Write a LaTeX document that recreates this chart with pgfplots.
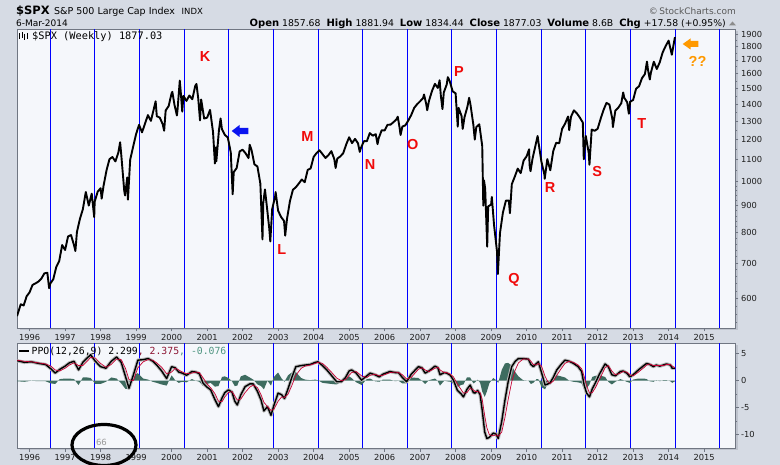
\documentclass[border=0pt]{standalone}
\usepackage{fontspec}
\setmainfont{DejaVu Sans}
\newfontfamily\monof{DejaVu Sans Mono}
\newfontfamily\arialf{Liberation Sans}
\usepackage{pgfplots}
\pgfplotsset{compat=1.18}
\usepackage{pgfplotstable}
\definecolor{bgc}{RGB}{214,219,228}
\definecolor{plotbg}{RGB}{245,247,251}
\definecolor{framec}{RGB}{112,118,130}
\definecolor{shadowc}{RGB}{190,195,205}
\definecolor{labc}{RGB}{30,30,30}
\definecolor{cyc}{RGB}{0,0,255}
\definecolor{histc}{RGB}{62,108,96}
\definecolor{sigc}{RGB}{200,0,50}
\definecolor{sigtxt}{RGB}{140,20,50}
\definecolor{histtxt}{RGB}{80,150,130}
\definecolor{annred}{RGB}{240,10,10}
\definecolor{annorange}{RGB}{255,153,0}
\definecolor{arrowblue}{RGB}{10,20,240}

\pgfplotstableread{
t v
1995.645 555
1995.75 584.4
1995.833 581.5
1995.917 605.4
1996.0 615.9
1996.083 636.0
1996.167 640.4
1996.25 645.5
1996.333 654.2
1996.417 669.1
1996.5 670.6
1996.55 627
1996.583 639.9
1996.667 652.0
1996.75 687.3
1996.833 705.3
1996.917 757.0
1997.0 740.7
1997.083 786.2
1997.167 790.8
1997.25 757.1
1997.29 737.6
1997.333 801.3
1997.417 848.3
1997.5 885.1
1997.583 954.3
1997.667 899.5
1997.75 947.3
1997.82 855
1997.833 914.6
1997.917 955.4
1998.0 970.4
1998.03 927
1998.083 980.3
1998.167 1049.3
1998.25 1101.8
1998.333 1111.8
1998.417 1090.8
1998.5 1133.8
1998.55 1186
1998.583 1120.7
1998.667 957.3
1998.69 940
1998.75 1017.0
1998.77 923
1998.833 1098.7
1998.917 1163.6
1999.0 1229.2
1999.083 1279.6
1999.167 1238.3
1999.25 1286.4
1999.333 1335.2
1999.417 1301.8
1999.5 1372.7
1999.55 1418
1999.583 1328.7
1999.667 1320.4
1999.75 1282.7
1999.79 1247
1999.833 1362.9
1999.917 1388.9
2000.0 1469.3
2000.02 1478
2000.083 1394.5
2000.15 1333
2000.167 1366.4
2000.23 1552
2000.25 1498.6
2000.3 1356
2000.333 1452.4
2000.417 1420.6
2000.5 1454.6
2000.583 1430.8
2000.667 1517.7
2000.7 1530
2000.75 1436.5
2000.8 1305
2000.833 1429.4
2000.917 1315.2
2001.0 1320.3
2001.083 1366.0
2001.167 1239.9
2001.22 1081
2001.25 1160.3
2001.26 1091
2001.333 1249.5
2001.38 1316
2001.417 1255.8
2001.5 1224.4
2001.583 1211.2
2001.667 1133.6
2001.72 945
2001.75 1040.9
2001.833 1059.8
2001.917 1139.5
2002.0 1148.1
2002.083 1130.2
2002.167 1106.7
2002.2 1173
2002.25 1147.4
2002.333 1076.9
2002.417 1067.1
2002.5 989.8
2002.56 776
2002.583 911.6
2002.63 965
2002.667 916.1
2002.75 815.3
2002.78 769
2002.833 885.8
2002.917 936.3
2002.93 954
2003.0 879.8
2003.083 855.7
2003.167 841.2
2003.2 789
2003.25 848.2
2003.333 916.9
2003.417 963.6
2003.5 974.5
2003.583 990.3
2003.667 1008.0
2003.75 996.0
2003.833 1050.7
2003.917 1058.2
2004.0 1111.9
2004.083 1131.1
2004.167 1144.9
2004.25 1126.2
2004.333 1107.3
2004.417 1120.7
2004.5 1140.8
2004.583 1101.7
2004.62 1060
2004.667 1104.2
2004.75 1114.6
2004.833 1130.2
2004.917 1173.8
2005.0 1211.9
2005.083 1181.3
2005.167 1203.6
2005.25 1180.6
2005.3 1137
2005.333 1156.9
2005.417 1191.5
2005.5 1191.3
2005.583 1234.2
2005.667 1220.3
2005.75 1228.8
2005.8 1176
2005.833 1207.0
2005.917 1249.5
2006.0 1248.3
2006.083 1280.1
2006.167 1280.7
2006.25 1294.8
2006.333 1310.6
2006.37 1326
2006.417 1270.1
2006.45 1224
2006.5 1270.2
2006.583 1276.7
2006.667 1303.8
2006.75 1335.9
2006.833 1377.9
2006.917 1400.6
2007.0 1418.3
2007.083 1438.2
2007.11 1461
2007.167 1406.8
2007.2 1364
2007.25 1420.9
2007.333 1482.4
2007.417 1530.6
2007.5 1503.4
2007.55 1555
2007.583 1455.3
2007.63 1371
2007.667 1474.0
2007.75 1526.8
2007.78 1576
2007.833 1549.4
2007.917 1481.1
2008.0 1468.4
2008.06 1270
2008.083 1378.6
2008.167 1330.6
2008.2 1257
2008.25 1322.7
2008.333 1385.6
2008.38 1440
2008.417 1400.4
2008.5 1280.0
2008.54 1200
2008.583 1267.4
2008.667 1282.8
2008.75 1166.4
2008.78 899
2008.8 1004
2008.833 968.8
2008.89 752
2008.917 896.2
2009.0 903.3
2009.02 934
2009.083 825.9
2009.167 735.1
2009.19 667
2009.25 797.9
2009.333 872.8
2009.417 919.1
2009.5 919.3
2009.53 870
2009.583 987.5
2009.667 1020.6
2009.75 1057.1
2009.833 1036.2
2009.917 1095.6
2010.0 1115.1
2010.07 1150
2010.083 1073.9
2010.11 1045
2010.167 1104.5
2010.25 1169.4
2010.31 1219
2010.333 1186.7
2010.417 1089.4
2010.5 1030.7
2010.51 1011
2010.583 1101.6
2010.667 1049.3
2010.75 1141.2
2010.833 1183.3
2010.917 1180.6
2011.0 1257.6
2011.083 1286.1
2011.167 1327.2
2011.2 1250
2011.25 1325.8
2011.333 1363.6
2011.417 1345.2
2011.5 1320.6
2011.583 1292.3
2011.61 1101
2011.667 1218.9
2011.75 1131.4
2011.77 1075
2011.833 1253.3
2011.917 1247.0
2012.0 1257.6
2012.083 1312.4
2012.167 1365.7
2012.25 1408.5
2012.333 1397.9
2012.417 1310.3
2012.43 1267
2012.5 1362.2
2012.583 1379.3
2012.667 1406.6
2012.72 1474
2012.75 1440.7
2012.833 1412.2
2012.88 1343
2012.917 1416.2
2013.0 1426.2
2013.083 1498.1
2013.167 1514.7
2013.25 1569.2
2013.333 1597.6
2013.39 1687
2013.417 1630.7
2013.47 1560
2013.5 1606.3
2013.583 1685.7
2013.667 1633.0
2013.75 1681.6
2013.833 1756.5
2013.917 1805.8
2014.0 1848.4
2014.09 1738
2014.167 1859.5
2014.18 1877.0
}\price

\pgfplotstableread{
t p s h
1995.65 3.7 3.8 -0.1
1995.85 3.4 3.6 -0.2
1996.05 3.5 3.5 0.0
1996.25 3.2 3.3 -0.1
1996.45 3.0 3.1 -0.1
1996.6 2.2 2.7 -0.5
1996.72 1.4 2.0 -0.6
1996.85 2.1 1.8 0.3
1997.0 2.7 2.3 0.4
1997.12 3.3 2.9 0.4
1997.25 3.6 3.3 0.3
1997.38 2.0 2.8 -0.8
1997.5 3.4 2.8 0.6
1997.62 4.2 3.6 0.6
1997.72 4.8 4.3 0.5
1997.85 3.6 4.2 -0.6
1998.0 2.6 3.2 -0.6
1998.15 2.3 2.5 -0.2
1998.3 3.6 3.0 0.6
1998.45 4.4 4.0 0.4
1998.58 3.4 3.9 -0.5
1998.7 0.8 2.3 -1.5
1998.8 -1.4 0.2 -1.6
1998.92 1.0 0.0 1.0
1999.05 3.8 2.4 1.4
1999.2 3.9 3.5 0.4
1999.34 4.1 3.9 0.2
1999.47 3.6 3.8 -0.2
1999.58 2.9 3.3 -0.4
1999.72 1.8 2.5 -0.7
1999.86 0.4 1.3 -0.9
2000.0 2.6 1.6 1.0
2000.1 2.4 2.3 0.1
2000.2 1.6 2.0 -0.4
2000.3 1.4 1.6 -0.2
2000.42 1.0 1.3 -0.3
2000.57 1.7 1.4 0.3
2000.68 1.6 1.6 0.0
2000.78 1.3 1.5 -0.2
2000.89 -0.5 0.5 -1.0
2001.0 -1.2 -0.6 -0.6
2001.1 -1.7 -1.3 -0.4
2001.22 -3.5 -2.4 -1.1
2001.32 -4.8 -3.8 -1.0
2001.42 -3.2 -3.9 0.7
2001.5 -2.2 -3.0 0.8
2001.6 -1.7 -2.2 0.5
2001.7 -2.1 -2.0 -0.1
2001.78 -3.8 -2.8 -1.0
2001.85 -4.5 -3.6 -0.9
2001.95 -2.6 -3.4 0.8
2002.07 -1.1 -2.2 1.1
2002.2 -0.6 -1.2 0.6
2002.3 -0.6 -0.8 0.2
2002.42 -2.0 -1.3 -0.7
2002.52 -3.6 -2.6 -1.0
2002.6 -5.6 -4.0 -1.6
2002.7 -4.8 -4.8 0.0
2002.8 -6.4 -5.5 -0.9
2002.88 -4.6 -5.3 0.7
2003.0 -2.3 -3.8 1.5
2003.1 -2.6 -3.0 0.4
2003.18 -3.3 -3.1 -0.2
2003.28 -1.5 -2.5 1.0
2003.38 0.5 -1.0 1.5
2003.5 2.6 1.0 1.6
2003.65 2.8 2.3 0.5
2003.76 2.9 2.7 0.2
2003.9 3.0 2.9 0.1
2004.05 3.4 3.2 0.2
2004.12 3.5 3.4 0.1
2004.25 2.8 3.2 -0.4
2004.37 2.0 2.5 -0.5
2004.5 1.0 1.6 -0.6
2004.65 -0.2 0.5 -0.7
2004.78 -0.2 0.0 -0.2
2004.9 0.6 0.2 0.4
2005.0 1.8 1.0 0.8
2005.07 2.0 1.5 0.5
2005.2 1.4 1.7 -0.3
2005.35 0.1 0.9 -0.8
2005.5 0.9 0.6 0.3
2005.59 1.4 1.0 0.4
2005.73 1.1 1.2 -0.1
2005.85 0.7 0.9 -0.2
2005.95 1.2 1.0 0.2
2006.15 1.7 1.5 0.2
2006.3 1.5 1.6 -0.1
2006.39 1.5 1.5 0.0
2006.5 0.6 1.1 -0.5
2006.62 -0.2 0.3 -0.5
2006.75 1.2 0.6 0.6
2006.95 2.6 2.1 0.5
2007.05 2.4 2.4 0.0
2007.14 1.4 2.0 -0.6
2007.25 1.8 1.7 0.1
2007.42 2.7 2.3 0.4
2007.5 2.4 2.5 -0.1
2007.56 1.1 2.0 -0.9
2007.68 1.5 1.5 0.0
2007.75 1.4 1.5 -0.1
2007.85 1.0 1.2 -0.2
2007.94 0.1 0.7 -0.6
2008.05 -1.8 -0.6 -1.2
2008.15 -2.4 -1.6 -0.8
2008.22 -3.0 -2.3 -0.7
2008.32 -1.6 -2.2 0.6
2008.41 -0.8 -1.4 0.6
2008.5 -2.2 -1.7 -0.5
2008.55 -2.3 -2.0 -0.3
2008.62 -1.8 -2.0 0.2
2008.69 -2.6 -2.2 -0.4
2008.75 -5.5 -3.5 -2.0
2008.82 -9.5 -6.5 -3.0
2008.88 -10.7 -8.7 -2.0
2008.95 -10.5 -10.0 -0.5
2009.06 -9.7 -10.2 0.5
2009.14 -9.9 -10.0 0.1
2009.2 -10.7 -10.3 -0.4
2009.3 -7.5 -9.5 2.0
2009.39 -3.6 -6.8 3.2
2009.48 -0.2 -3.5 3.3
2009.58 2.6 -0.2 2.8
2009.68 3.6 2.0 1.6
2009.77 4.1 3.3 0.8
2009.9 4.1 4.0 0.1
2010.05 4.0 4.0 0.0
2010.12 3.0 3.6 -0.6
2010.19 2.6 3.0 -0.4
2010.28 3.2 2.9 0.3
2010.33 3.5 3.2 0.3
2010.42 1.5 2.7 -1.2
2010.52 -0.8 0.8 -1.6
2010.6 -0.6 -0.2 -0.4
2010.66 -0.4 -0.5 0.1
2010.75 0.6 -0.1 0.7
2010.85 2.0 1.0 1.0
2010.97 3.0 2.2 0.8
2011.08 3.8 3.2 0.6
2011.2 3.6 3.6 0.0
2011.32 3.2 3.4 -0.2
2011.45 2.6 2.9 -0.3
2011.55 1.7 2.2 -0.5
2011.62 -0.8 0.8 -1.6
2011.69 -2.3 -0.9 -1.4
2011.77 -3.0 -2.3 -0.7
2011.85 -1.5 -2.2 0.7
2011.93 -0.5 -1.4 0.9
2012.05 1.2 0.2 1.0
2012.21 3.1 2.4 0.7
2012.3 2.6 2.8 -0.2
2012.4 1.1 1.8 -0.7
2012.5 0.9 1.1 -0.2
2012.64 1.7 1.4 0.3
2012.72 1.8 1.7 0.1
2012.82 1.4 1.6 -0.2
2012.91 0.7 1.1 -0.4
2013.0 1.1 0.9 0.2
2013.15 2.0 1.6 0.4
2013.3 2.8 2.4 0.4
2013.38 3.2 2.9 0.3
2013.47 3.0 3.1 -0.1
2013.57 2.6 2.8 -0.2
2013.65 2.9 2.8 0.1
2013.75 2.7 2.8 -0.1
2013.85 2.9 2.8 0.1
2013.94 3.1 3.0 0.1
2014.05 2.9 3.0 -0.1
2014.1 2.3 2.7 -0.4
2014.18 2.3 2.4 -0.1
}\ppo

\pgfplotsset{
  chartbase/.style={
    scale only axis, width=718bp,
    xmin=1995.645, xmax=2015.87,
    axis background/.style={fill=plotbg},
    axis line style={framec, line width=0.8bp},
    tick style={framec, line width=0.5bp},
    tick align=outside,
    major tick length=3.5bp, minor tick length=2bp,
    xtick={1996,1997,1998,1999,2000,2001,2002,2003,2004,2005,2006,2007,2008,2009,2010,2011,2012,2013,2014,2015},
    xticklabels={1996,1997,1998,1999,2000,2001,2002,2003,2004,2005,2006,2007,2008,2009,2010,2011,2012,2013,2014,2015},
    xtick pos=left, ytick pos=right, yticklabel pos=right,
    ticklabel style={font=\fontsize{8.3bp}{9bp}\selectfont, text=labc},
    xticklabel style={yshift=1bp},
    yticklabel style={anchor=west, xshift=-1bp},
    extra x ticks={1996.575,1997.823,1999.090,2000.358,2001.597,2002.865,2004.132,2005.372,2006.639,2007.879,2009.146,2010.414,2011.654,2012.921,2014.189,2015.420},
    extra x tick labels={},
    extra x tick style={grid=major, major grid style={cyc, line width=1bp}, major tick length=0pt},
  }
}

\begin{document}
\begin{tikzpicture}
\useasboundingbox (0,0) rectangle (780bp,465bp);
\fill[bgc] (0,0) rectangle (780bp,465bp);
\fill[shadowc] (19.5bp,134.5bp) rectangle (737.5bp,434bp);
\fill[shadowc] (19.5bp,14.5bp) rectangle (737.5bp,120bp);

\begin{axis}[chartbase,
  at={(17bp,137bp)}, anchor=south west, height=299bp,
  ymode=log, ymin=527, ymax=1945,
  ytick={600,700,800,900,1000,1100,1200,1300,1400,1500,1600,1700,1800,1900},
  yticklabels={600,700,800,900,1000,1100,1200,1300,1400,1500,1600,1700,1800,1900},
  minor ytick={540,560,580,620,640,660,680,720,740,760,780,820,840,860,880,920,940,960,980,1050,1150,1250,1350,1450,1550,1650,1750,1850},
]
\addplot[black, line width=1.9bp, line join=round] table[x=t,y=v]{\price};
\end{axis}

\begin{axis}[chartbase,
  at={(17bp,17bp)}, anchor=south west, height=105bp,
  ymin=-12.46, ymax=6.98,
  ytick={-10,-5,0,5}, yticklabels={-10,-5,0,5},
  minor ytick={-12.5,-7.5,-2.5,2.5},
]
\addplot[fill=histc, draw=none] table[x=t,y=h]{\ppo} \closedcycle;
\addplot[black!28, line width=3.4bp, line join=round] table[x=t,y=p]{\ppo};
\addplot[black, line width=1.4bp, line join=round] table[x=t,y=p]{\ppo};
\addplot[sigc, line width=0.7bp, line join=round] table[x=t,y=s]{\ppo};
\end{axis}

\begin{scope}[x=1bp,y=-1bp,shift={(0,465bp)}]
% header
\node[anchor=base west, inner sep=0, font=\bfseries\fontsize{11.5bp}{12bp}\selectfont] at (16,15) {\$SPX};
\node[anchor=base west, inner sep=0, font=\fontsize{9.5bp}{10bp}\selectfont] at (54,14.5) {S\&P 500 Large Cap Index};
\node[anchor=base west, inner sep=0, font=\fontsize{8.5bp}{9bp}\selectfont] at (181.5,14.5) {INDX};
\node[anchor=base west, inner sep=0, font=\fontsize{9bp}{10bp}\selectfont] at (16,26.7) {6-Mar-2014};
\node[anchor=base east, inner sep=0, font=\fontsize{9.3bp}{10bp}\selectfont] at (726,26.7)
  {{\bfseries\fontsize{10bp}{10bp}\selectfont Open} 1857.68\ \ {\bfseries\fontsize{10bp}{10bp}\selectfont High} 1881.94\ \ {\bfseries\fontsize{10bp}{10bp}\selectfont Low} 1834.44\ \ {\bfseries\fontsize{10bp}{10bp}\selectfont Close} 1877.03\ \ {\bfseries\fontsize{10bp}{10bp}\selectfont Volume} 8.6B\ \ {\bfseries\fontsize{10bp}{10bp}\selectfont Chg} +17.58 (+0.95\%)};
\fill[black!45] (729,25.5) -- (736,25.5) -- (732.5,21.5) -- cycle;
\node[anchor=base east, inner sep=0, text=black!65, font=\fontsize{9bp}{10bp}\selectfont] at (736,14.5) {\textcopyright\,StockCharts.com};
% main legend
\draw[black, line width=0.8bp] (19.5,33.5) -- (19.5,39.5) (22,32.5) -- (22,38.5) (24.5,34) -- (24.5,40) (27,33) -- (27,39);
\node[anchor=base west, inner sep=0, font=\monof\fontsize{10.3bp}{10bp}\selectfont] at (32,40) {\$SPX (Weekly) 1877.03};
% PPO legend
\draw[black, line width=2bp] (19,351) -- (28.5,351);
\node[anchor=base west, inner sep=0, font=\monof\fontsize{9.8bp}{10bp}\selectfont] at (31.5,354.3) {PPO(12,26,9) 2.299\textcolor{sigtxt}{, 2.375}\textcolor{histtxt}{, -0.076}};
% letters
\begin{scope}[every node/.style={text=annred, font=\arialf\bfseries\fontsize{14.5bp}{15bp}\selectfont, inner sep=0}]
\node at (205,56.7) {K};
\node at (281.7,250) {L};
\node at (307.3,136.7) {M};
\node at (370,165) {N};
\node at (412.7,144.3) {O};
\node at (459,71.7) {P};
\node at (514,280) {Q};
\node at (550,187.3) {R};
\node at (597.3,171.7) {S};
\node at (641.7,123.3) {T};
\end{scope}
\node[text=annorange, font=\arialf\bfseries\fontsize{14.5bp}{15bp}\selectfont, inner sep=0] at (697.5,61) {??};
% arrows
\fill[arrowblue] (231.7,131) -- (239.5,125) -- (239.5,127.8) -- (248.3,127.8) -- (248.3,134.2) -- (239.5,134.2) -- (239.5,137) -- cycle;
\fill[annorange] (682.7,44) -- (690.5,38.5) -- (690.5,41) -- (698.3,41) -- (698.3,47) -- (690.5,47) -- (690.5,49.5) -- cycle;
% ellipse and 66
\node[text=black!40, font=\fontsize{8.5bp}{9bp}\selectfont, inner sep=0] at (101.5,442) {66};
\draw[black, line width=3.2bp] (104,445) ellipse [x radius=32, y radius=20.5];
\end{scope}
\end{tikzpicture}
\end{document}
